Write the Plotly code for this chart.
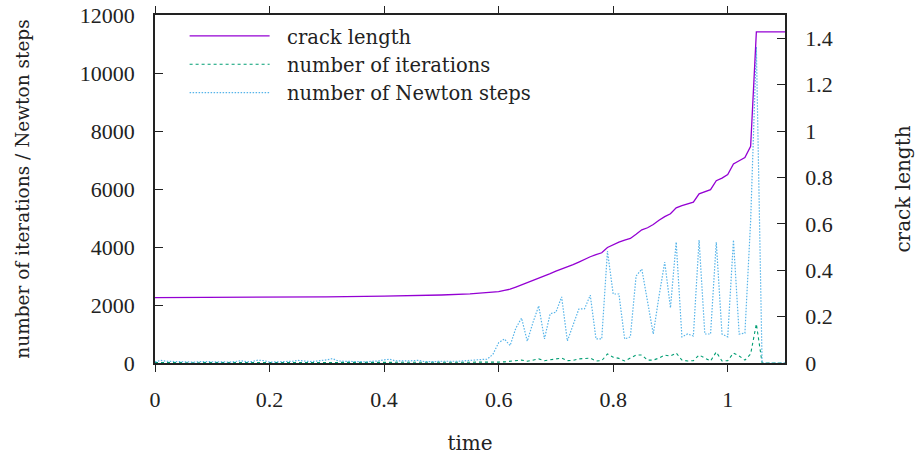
import plotly.graph_objects as go

# ---------------- data ----------------
time = [0.00, 0.01, 0.02, 0.03, 0.04, 0.05, 0.06, 0.07, 0.08, 0.09,
        0.10, 0.11, 0.12, 0.13, 0.14, 0.15, 0.16, 0.17, 0.18, 0.19,
        0.20, 0.21, 0.22, 0.23, 0.24, 0.25, 0.26, 0.27, 0.28, 0.29,
        0.30, 0.31, 0.32, 0.33, 0.34, 0.35, 0.36, 0.37, 0.38, 0.39,
        0.40, 0.41, 0.42, 0.43, 0.44, 0.45, 0.46, 0.47, 0.48, 0.49,
        0.50, 0.51, 0.52, 0.53, 0.54, 0.55, 0.56, 0.57, 0.58, 0.59,
        0.60, 0.61, 0.62, 0.63, 0.64, 0.65, 0.66, 0.67, 0.68, 0.69,
        0.70, 0.71, 0.72, 0.73, 0.74, 0.75, 0.76, 0.77, 0.78, 0.79,
        0.80, 0.81, 0.82, 0.83, 0.84, 0.85, 0.86, 0.87, 0.88, 0.89,
        0.90, 0.91, 0.92, 0.93, 0.94, 0.95, 0.96, 0.97, 0.98, 0.99,
        1.00, 1.01, 1.02, 1.03, 1.04, 1.05, 1.06, 1.07, 1.08, 1.09,
        1.10]

iterations = [15, 20, 15, 10, 15, 10, 10, 15, 10, 10,
              10, 15, 10, 10, 15, 20, 10, 15, 20, 15,
              10, 10, 15, 10, 15, 20, 15, 10, 15, 15,
              20, 25, 15, 10, 15, 10, 15, 10, 15, 15,
              20, 25, 15, 10, 15, 15, 20, 10, 10, 15,
              15, 10, 15, 15, 20, 20, 20, 25, 25, 20,
              30, 40, 60, 100, 100, 60, 100, 140, 80, 110,
              120, 170, 80, 90, 140, 150, 170, 70, 80, 310,
              200, 160, 70, 170, 275, 275, 100, 100, 170, 275,
              240, 345, 100, 70, 80, 275, 170, 70, 380, 70,
              80, 345, 240, 100, 310, 1350, 0, 0, 0, 0,
              0]

newton_steps = [40, 90, 60, 50, 40, 50, 40, 30, 50, 40,
                30, 40, 40, 30, 50, 80, 40, 50, 100, 80,
                30, 40, 50, 40, 60, 90, 60, 50, 60, 80,
                110, 150, 70, 60, 50, 60, 50, 40, 60, 70,
                110, 130, 70, 60, 70, 80, 90, 50, 40, 50,
                60, 50, 60, 60, 80, 100, 110, 120, 130, 300,
                700, 830, 600, 1200, 1550, 750, 1400, 1970, 830, 1700,
                1750, 2280, 760, 1300, 1860, 1870, 2340, 830, 830, 3860,
                2380, 2380, 830, 900, 3000, 3240, 2100, 1000, 2300, 3480,
                1900, 4170, 900, 1000, 930, 4240, 1000, 1000, 4170, 1000,
                900, 4240, 1000, 1030, 4900, 10900, 0, 0, 0, 0,
                0]

crack_time = [0.00, 0.10, 0.20, 0.30, 0.40, 0.45, 0.50, 0.55, 0.59,
              0.60, 0.61, 0.62, 0.63, 0.64, 0.65, 0.66, 0.67, 0.68, 0.69,
              0.70, 0.71, 0.72, 0.73, 0.74, 0.75, 0.76, 0.77, 0.78, 0.79,
              0.80, 0.81, 0.82, 0.83, 0.84, 0.85, 0.86, 0.87, 0.88, 0.89,
              0.90, 0.91, 0.92, 0.93, 0.94, 0.95, 0.96, 0.97, 0.98, 0.99,
              1.00, 1.01, 1.02, 1.03, 1.04, 1.05, 1.06, 1.07, 1.08, 1.09,
              1.10]

crack_length = [0.2815, 0.282, 0.283, 0.285, 0.288, 0.290, 0.293, 0.298, 0.304,
                0.308, 0.313, 0.318, 0.327, 0.335, 0.346, 0.356, 0.365, 0.373, 0.385,
                0.396, 0.405, 0.413, 0.424, 0.435, 0.447, 0.458, 0.467, 0.475, 0.498,
                0.510, 0.521, 0.530, 0.537, 0.555, 0.574, 0.583, 0.597, 0.615, 0.631,
                0.643, 0.669, 0.678, 0.686, 0.693, 0.729, 0.738, 0.747, 0.786, 0.797,
                0.812, 0.858, 0.872, 0.886, 0.934, 1.427, 1.427, 1.427, 1.427, 1.427,
                1.427]

series_names = ["crack length", "number of iterations", "number of Newton steps"]

x_ticks = [0, 0.2, 0.4, 0.6, 0.8, 1.0]
x_ticktext = ["0", "0.2", "0.4", "0.6", "0.8", "1"]
y_ticks = [0, 2000, 4000, 6000, 8000, 10000, 12000]
y2_ticks = [0, 0.2, 0.4, 0.6, 0.8, 1.0, 1.2, 1.4]
y2_ticktext = ["0", "0.2", "0.4", "0.6", "0.8", "1", "1.2", "1.4"]

# ---------------- figure ----------------
FONT = "Liberation Serif, Times New Roman, DejaVu Serif, serif"
WFONT = "DejaVu Serif, Liberation Serif, serif"
TXT = "#222"
PAD = "\u00a0\u00a0"
fig = go.Figure()

fig.add_trace(go.Scatter(
    x=crack_time, y=crack_length, yaxis="y2", name=PAD + series_names[0],
    mode="lines", line=dict(color="#9400d3", width=1.3)))
fig.add_trace(go.Scatter(
    x=time, y=iterations, name=PAD + series_names[1], mode="lines",
    line=dict(color="#009e73", width=1.1, dash="3px,3px")))
fig.add_trace(go.Scatter(
    x=time, y=newton_steps, name=PAD + series_names[2], mode="lines",
    line=dict(color="#56b4e9", width=1.2, dash="1.5px,1.5px")))

axis_common = dict(showgrid=False, zeroline=False, showline=True, automargin=False,
                   linecolor="#222", linewidth=1.5, tickcolor="#222",
                   tickwidth=1.2, ticklabeloverflow="allow",
                   tickfont=dict(family=FONT, size=22, color=TXT))

fig.update_layout(
    width=919, height=460,
    margin=dict(l=155, r=134, t=15, b=97, autoexpand=False),
    paper_bgcolor="white", plot_bgcolor="white",
    font=dict(family=FONT, size=22, color=TXT),
    showlegend=True,
    legend=dict(x=0.047, y=0.995, xanchor="left", yanchor="top",
                bgcolor="rgba(0,0,0,0)", itemwidth=80,
                font=dict(family=WFONT, size=19.5, color=TXT)),
    xaxis=dict(range=[0, 1.1], tickvals=x_ticks, ticktext=x_ticktext,
               ticks="outside", ticklen=7, mirror="ticks", ticklabelstandoff=9,
               title=dict(text="time", standoff=25, font=dict(family=WFONT, size=20, color=TXT)),
               **axis_common),
    yaxis=dict(range=[0, 12000], tickvals=y_ticks, tickformat="d",
               ticks="inside", ticklen=8, ticklabelstandoff=14,
               title=dict(text="number of iterations / Newton steps", standoff=45,
                          font=dict(family=WFONT, size=18.5, color=TXT)),
               **axis_common),
    yaxis2=dict(range=[0, 1.5], overlaying="y", side="right",
                tickvals=y2_ticks, ticktext=y2_ticktext,
                ticks="inside", ticklen=8, ticklabelstandoff=14,
                title=dict(text="crack length", standoff=64,
                           font=dict(family=WFONT, size=20, color=TXT)),
                **axis_common),
)

# remove the default page margin so the figure sits at the window's top-left corner
fig.write_html("out.html", config={"displayModeBar": False},
               post_script="document.body.style.margin='0px';")
